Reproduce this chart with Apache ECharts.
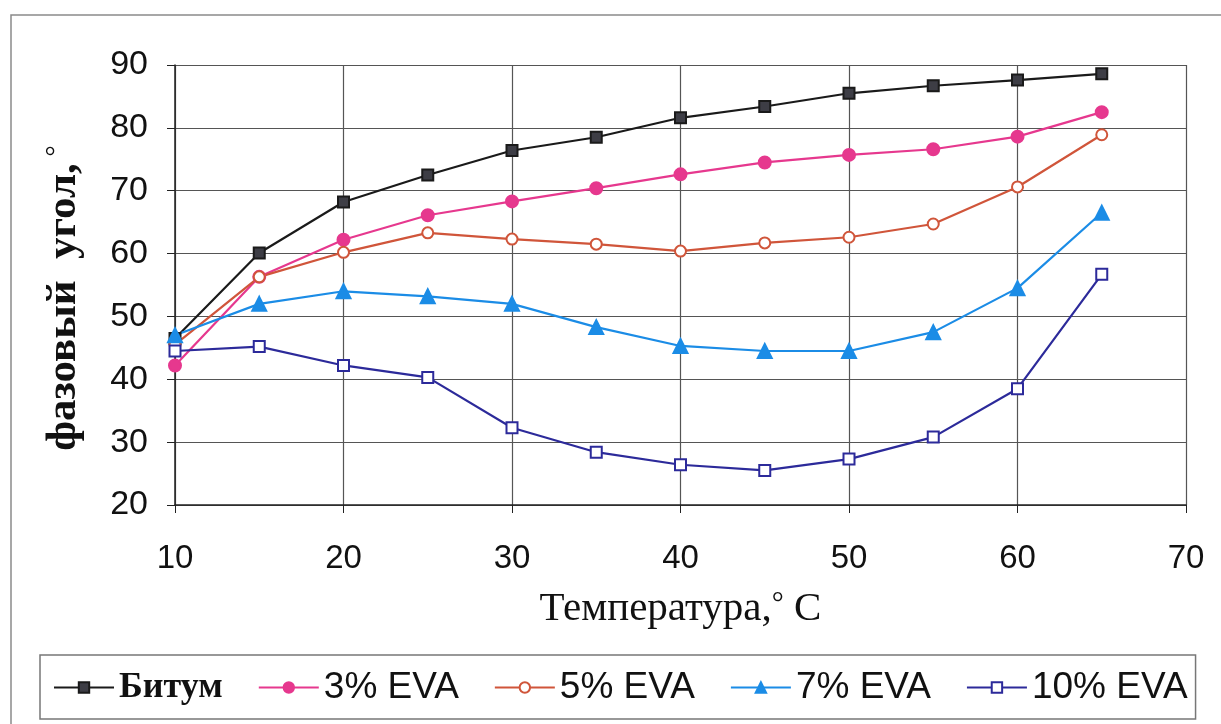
<!DOCTYPE html>
<html><head><meta charset="utf-8">
<script src="https://cdn.jsdelivr.net/npm/echarts@6/dist/echarts.min.js"></script>
<style>html,body{margin:0;padding:0;background:#fff}#c{width:1221px;height:724px}</style>
</head><body><div id="c"></div>
<script>
const temps = [10, 15, 20, 25, 30, 35, 40, 45, 50, 55, 60, 65];
const bitumen = [46.5, 60.1, 68.2, 72.5, 76.4, 78.5, 81.6, 83.4, 85.5, 86.7, 87.6, 88.6];
const eva3 = [42.2, 56.3, 62.2, 66.1, 68.3, 70.4, 72.6, 74.5, 75.7, 76.6, 78.6, 82.5];
const eva5 = [45.5, 56.3, 60.2, 63.3, 62.3, 61.5, 60.4, 61.7, 62.6, 64.7, 70.6, 78.9];
const eva7 = [47.0, 52.0, 54.0, 53.2, 52.0, 48.3, 45.3, 44.5, 44.5, 47.5, 54.5, 66.5];
const eva10 = [44.5, 45.2, 42.2, 40.3, 32.3, 28.4, 26.4, 25.5, 27.3, 30.8, 38.5, 56.7];
const seriesNames = ['Битум', '3% EVA', '5% EVA', '7% EVA', '10% EVA'];
const xTicks = [10, 20, 30, 40, 50, 60, 70];
const yTicks = [20, 30, 40, 50, 60, 70, 80, 90];
const xTitle = ['Температура,', '°', ' C'];
const yTitle = ['фазовый  угол,', '°'];

const pair = (arr) => temps.map((t, i) => [t, arr[i]]);
const chart = echarts.init(document.getElementById('c'));
const serif = 'Liberation Serif';
const sans = 'Liberation Sans';

const mk = (name, data, color, symbol, fill, size) => ({
  name, type: 'line', data: pair(data), symbol, symbolSize: size,
  lineStyle: { color, width: 2.2 },
  itemStyle: { color: fill, borderColor: color, borderWidth: 2 },
  emphasis: { disabled: true }
});

chart.setOption({
  backgroundColor: '#ffffff',
  animation: false,
  graphic: [
    { type: 'rect', shape: { x: 11, y: 15, width: 1230, height: 730 },
      style: { fill: 'none', stroke: '#8a8a8a', lineWidth: 1.5 }, silent: true, z: -1 },
    { type: 'text', x: 64, y: 298, rotation: Math.PI / 2,
      style: { text: '{a|' + yTitle[0] + '}  {s|' + yTitle[1] + '}', align: 'center', verticalAlign: 'middle',
        rich: { a: { fontFamily: serif, fontWeight: 'bold', fontSize: 43, fill: '#111' },
                s: { fontFamily: serif, fontSize: 28, fill: '#111', verticalAlign: 'top', padding: [0, 0, 14, 0] } } } }
  ],
  grid: { left: 175, right: 35, top: 65, bottom: 219 },
  xAxis: {
    type: 'value', min: xTicks[0], max: xTicks[xTicks.length - 1], interval: 10,
    name: '{a|' + xTitle[0] + '}{s|' + xTitle[1] + '}{a|' + xTitle[2] + '}', nameLocation: 'middle', nameGap: 84,
    nameTextStyle: { fontFamily: serif, fontSize: 41, color: '#111',
      rich: { a: { fontFamily: serif, fontSize: 41, color: '#111' },
              s: { fontFamily: serif, fontSize: 30, color: '#111', verticalAlign: 'top', padding: [0, 0, 10, 0] } } },
    axisLine: { lineStyle: { color: '#222', width: 1.5 } },
    axisTick: { show: true, length: 8, lineStyle: { color: '#222' } },
    axisLabel: { fontFamily: sans, fontSize: 33, color: '#111', margin: 37 },
    splitLine: { show: true, lineStyle: { color: '#555', width: 1.2 } }
  },
  yAxis: {
    type: 'value', min: yTicks[0], max: yTicks[yTicks.length - 1], interval: 10,
    axisLine: { show: true, lineStyle: { color: '#222', width: 1.5 } },
    axisTick: { show: true, length: 8, lineStyle: { color: '#222' } },
    axisLabel: { fontFamily: sans, fontSize: 34, color: '#111', margin: 27 },
    splitLine: { show: true, lineStyle: { color: '#555', width: 1.2 } }
  },
  legend: {
    data: seriesNames, left: 40, top: 655, orient: 'horizontal',
    padding: [14, 8, 13, 13], itemGap: 35, itemWidth: 60, itemHeight: 13,
    borderColor: '#777', borderWidth: 1.5, backgroundColor: '#fff',
    textStyle: { fontFamily: sans, fontSize: 37, color: '#111',
      rich: { b: { fontFamily: serif, fontWeight: 'bold', fontSize: 36, color: '#111' } } },
    formatter: (n) => n === 'Битум' ? '{b|' + n + '}' : n
  },
  series: [
    mk(seriesNames[0], bitumen, '#1a1a1a', 'rect', '#3d3d45', 11),
    mk(seriesNames[1], eva3, '#e6388e', 'circle', '#e6388e', 12),
    mk(seriesNames[2], eva5, '#d0553a', 'circle', '#ffffff', 11),
    mk(seriesNames[3], eva7, '#1b8ce6', 'triangle', '#1b8ce6', 14),
    mk(seriesNames[4], eva10, '#2c2a9a', 'rect', '#ffffff', 11)
  ]
});
</script></body></html>
